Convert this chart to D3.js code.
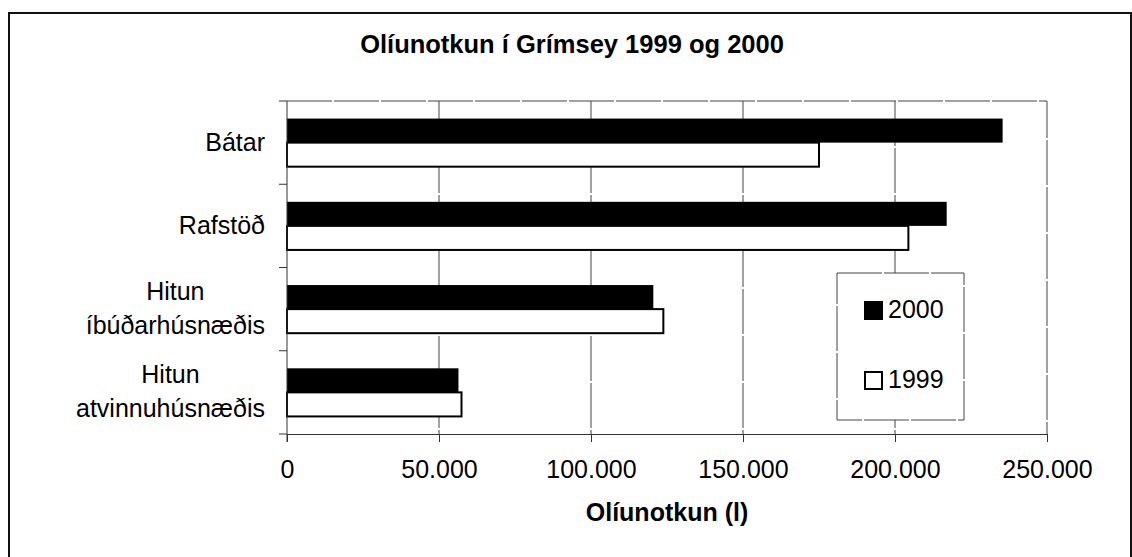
<!DOCTYPE html>
<html>
<head>
<meta charset="utf-8">
<script src="https://cdn.jsdelivr.net/npm/d3@7"></script>
<style>
  body { margin: 0; background: #fff; }
  text { font-family: "Liberation Sans", Arial, sans-serif; fill: #000; }
</style>
</head>
<body>
<div id="chart"></div>
<script>
// data
const categories = ["Bátar", "Rafstöð", "Hitun\níbúðarhúsnæðis", "Hitun\natvinnuhúsnæðis"]
const seriesKeys = ["2000", "1999"]
const values2000 = [235400, 217000, 120500, 56400]
const values1999 = [175000, 204400, 123800, 57400]
const xTicks = [0, 50000, 100000, 150000, 200000, 250000]

const rows = categories.map((c, i) => ({cat: c, "2000": values2000[i], "1999": values1999[i]}))

// chart dimensions
const width = 1132
const height = 557
const plot = {left: 287, right: 1047, top: 101, bottom: 434}

const svg = d3.select("#chart").append("svg")
  .attr("width", width)
  .attr("height", height)

// outer frame (bottom edge runs off the picture)
svg.append("path")
  .attr("d", `M9,${height + 5} V13 H1131 V${height + 5}`)
  .attr("fill", "none")
  .attr("stroke", "#111")
  .attr("stroke-width", 2)

// scales
const x = d3.scaleLinear().domain([0, 250000]).range([plot.left, plot.right])
const y = d3.scaleBand().domain(categories).range([plot.top, plot.bottom]).padding(0)
const ySub = d3.scaleBand().domain(seriesKeys).range([0, y.bandwidth()]).paddingInner(0).paddingOuter(0.73)

const isFmt = d3.formatLocale({decimal: ",", thousands: ".", grouping: [3], currency: ["", ""]}).format(",d")

// gridlines
svg.append("g")
  .selectAll("line")
  .data(xTicks.slice(1, -1))
  .join("line")
    .attr("x1", d => x(d)).attr("x2", d => x(d))
    .attr("y1", plot.top).attr("y2", plot.bottom)
    .attr("stroke", "#444")
    .attr("stroke-width", 1)
    .attr("stroke-dasharray", "45,2")

// plot area border top/right
svg.append("path")
  .attr("d", `M${plot.left},${plot.top} H${plot.right} V${plot.bottom}`)
  .attr("fill", "none")
  .attr("stroke", "#444")
  .attr("stroke-width", 1)
  .attr("stroke-dasharray", "45,2")

// bars
const groups = svg.append("g")
  .selectAll("g")
  .data(rows)
  .join("g")
    .attr("transform", d => `translate(0,${y(d.cat)})`)

groups.selectAll("rect")
  .data(d => seriesKeys.map(k => ({key: k, value: d[k]})))
  .join("rect")
    .attr("x", x(0))
    .attr("y", d => ySub(d.key))
    .attr("width", d => x(d.value) - x(0))
    .attr("height", ySub.bandwidth())
    .attr("fill", d => d.key === "2000" ? "#000" : "#fff")
    .attr("stroke", "#000")
    .attr("stroke-width", d => d.key === "2000" ? 0 : 2)

// x axis
const xAxis = svg.append("g")
  .attr("transform", `translate(0,${plot.bottom})`)
  .call(d3.axisBottom(x).tickValues(xTicks).tickFormat(isFmt).tickSize(8).tickPadding(18))
xAxis.select(".domain").attr("stroke", "#333")
xAxis.selectAll(".tick line").attr("stroke", "#333")
xAxis.selectAll(".tick text")
  .attr("font-size", 25)
  .attr("font-family", "Liberation Sans, Arial, sans-serif")

// y axis (ticks on band edges)
const yEdges = categories.map(c => y(c)).concat([plot.bottom])
svg.append("line")
  .attr("x1", plot.left).attr("x2", plot.left)
  .attr("y1", plot.top).attr("y2", plot.bottom + 8)
  .attr("stroke", "#333")
svg.append("g")
  .selectAll("line")
  .data(yEdges)
  .join("line")
    .attr("x1", plot.left - 8).attr("x2", plot.left)
    .attr("y1", d => d).attr("y2", d => d)
    .attr("stroke", "#333")

// category labels (multi-line ones are centred within their block)
const labelRight = 265
const catLabels = svg.append("g")
  .selectAll("text")
  .data(categories)
  .join("text")
    .attr("font-size", 25)

catLabels.each(function (d) {
  const lines = d.split("\n")
  const t = d3.select(this)
  const lh = 34
  const cy = y(d) + y.bandwidth() / 2 + 8 - (lines.length - 1) * lh / 2
  lines.forEach((l, i) => {
    t.append("tspan").attr("y", cy + i * lh).text(l)
  })
  const spans = t.selectAll("tspan").nodes()
  const maxW = d3.max(spans, s => s.getComputedTextLength())
  t.attr("text-anchor", "middle")
  t.selectAll("tspan").attr("x", labelRight - maxW / 2)
})

// title
svg.append("text")
  .attr("x", 572)
  .attr("y", 53)
  .attr("text-anchor", "middle")
  .attr("font-size", 25.5)
  .attr("font-weight", "bold")
  .text("Olíunotkun í Grímsey 1999 og 2000")

// axis title
svg.append("text")
  .attr("x", (plot.left + plot.right) / 2)
  .attr("y", 521)
  .attr("text-anchor", "middle")
  .attr("font-size", 25)
  .attr("font-weight", "bold")
  .text("Olíunotkun (l)")

// legend
const legend = svg.append("g")
legend.append("rect")
  .attr("x", 837).attr("y", 273)
  .attr("width", 127).attr("height", 147)
  .attr("fill", "#fff")
  .attr("stroke", "#444")
  .attr("stroke-width", 1)
  .attr("stroke-dasharray", "45,2")

const legendData = [
  {key: "2000", fill: "#000", y: 302},
  {key: "1999", fill: "#fff", y: 372}
]
legend.selectAll("rect.sw")
  .data(legendData)
  .join("rect")
    .attr("class", "sw")
    .attr("x", 865).attr("y", d => d.y)
    .attr("width", 17).attr("height", 17)
    .attr("fill", d => d.fill)
    .attr("stroke", "#000")
    .attr("stroke-width", 2)
legend.selectAll("text")
  .data(legendData)
  .join("text")
    .attr("x", 888)
    .attr("y", d => d.y + 16)
    .attr("font-size", 25)
    .text(d => d.key)
</script>
</body>
</html>
